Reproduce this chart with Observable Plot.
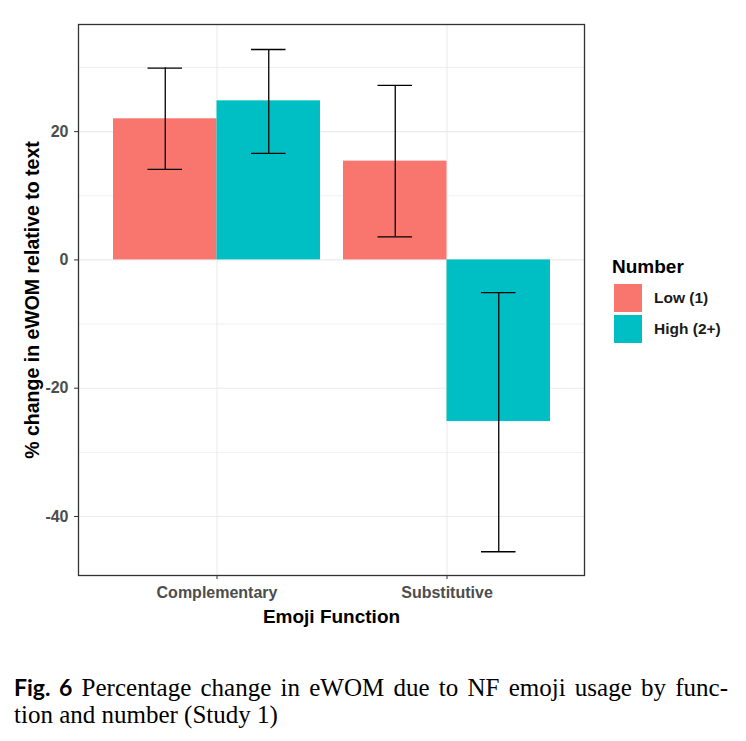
<!DOCTYPE html>
<html>
<head>
<meta charset="utf-8">
<script src="https://cdn.jsdelivr.net/npm/d3@7"></script>
<script src="https://cdn.jsdelivr.net/npm/@observablehq/plot@0.6"></script>
<style>
  html, body { margin: 0; padding: 0; background: #fff; }
  #wrap { position: relative; width: 746px; height: 741px; overflow: hidden; }
  #legend { position: absolute; left: 612px; top: 254px; font-family: "Liberation Sans", Arial, sans-serif; }
  #legend .title { font-size: 19px; font-weight: bold; color: #000; height: 28px; line-height: 26px; }
  #legend .row { display: flex; align-items: center; height: 30px; margin-top: 1px; }
  #legend .key { width: 28px; height: 28px; margin-left: 2px; margin-right: 12px; }
  #legend .lab { font-size: 15.5px; font-weight: bold; color: #1a1a1a; }
  #caption { position: absolute; left: 14px; top: 674px; width: 714px; font-family: "Liberation Serif", "Times New Roman", serif; font-size: 25px; line-height: 27px; color: #000; }
  #caption .l1 { text-align: justify; text-align-last: justify; white-space: nowrap; }
  #caption .fig { font-family: Lato, "Open Sans", sans-serif; font-weight: 700; font-size: 23px; }
</style>
</head>
<body>
<div id="wrap">
  <div id="chart"></div>
  <div id="legend"></div>
  <div id="caption"></div>
</div>
<script>
const functions = ["Complementary", "Substitutive"];
const numbers = ["Low (1)", "High (2+)"];
const lowMean = [22.0, 15.4];
const highMean = [24.8, -25.2];
const lowLower = [14.1, 3.6];
const lowUpper = [29.9, 27.2];
const highLower = [16.6, -45.5];
const highUpper = [32.8, -5.1];
const colors = ["#F8766D", "#00BFC4"];
const yTicks = [-40, -20, 0, 20];
const yMinor = [-30, -10, 10, 30];
const xTitle = "Emoji Function";
const yTitle = "% change in eWOM relative to text";
const legendTitle = "Number";
const captionFig = "Fig. 6";
const captionLine1 = "Percentage change in eWOM due to NF emoji usage by func-";
const captionLine2 = "tion and number (Study 1)";

const lowData = functions.map((f, i) => ({fn: f, number: numbers[0], mean: lowMean[i], lo: lowLower[i], hi: lowUpper[i]}));
const highData = functions.map((f, i) => ({fn: f, number: numbers[1], mean: highMean[i], lo: highLower[i], hi: highUpper[i]}));

const W = 746, H = 640;
const mL = 78, mR = 162, mT = 24, mB = 65;
const step = (W - mL - mR) / (functions.length - 0.1 + 2 * 0.15);
const band = step * 0.9;
const half = band / 2;
const capHalf = step * 0.075;

const tickFont = {fontSize: 16, fontWeight: "bold", fill: "#4D4D4D"};

const plot = Plot.plot({
  width: W, height: H,
  marginLeft: mL, marginRight: mR, marginTop: mT, marginBottom: mB,
  style: {fontFamily: "Liberation Sans, Arial, sans-serif", background: "#fff", overflow: "visible"},
  x: {type: "band", domain: functions, paddingInner: 0.1, paddingOuter: 0.15, align: 0.5, axis: null},
  y: {domain: [-49.2, 36.7], axis: null},
  color: {domain: numbers, range: colors},
  marks: [
    Plot.gridY(yMinor, {stroke: "#EBEBEB", strokeOpacity: 1, strokeWidth: 0.8}),
    Plot.gridY(yTicks, {stroke: "#EBEBEB", strokeOpacity: 1, strokeWidth: 1.1}),
    Plot.gridX(functions, {stroke: "#EBEBEB", strokeOpacity: 1, strokeWidth: 1.1}),
    Plot.barY(lowData, {x: "fn", y: "mean", fill: "number", insetLeft: 0, insetRight: half}),
    Plot.barY(highData, {x: "fn", y: "mean", fill: "number", insetLeft: half, insetRight: 0}),
    Plot.ruleX(lowData, {x: "fn", y1: "lo", y2: "hi", dx: -half / 2, stroke: "#000", strokeWidth: 1.3}),
    Plot.ruleX(highData, {x: "fn", y1: "lo", y2: "hi", dx: half / 2, stroke: "#000", strokeWidth: 1.3}),
    Plot.tickY(lowData, {x: "fn", y: "hi", insetLeft: half / 2 - capHalf, insetRight: half + half / 2 - capHalf, stroke: "#000", strokeWidth: 1.3}),
    Plot.tickY(lowData, {x: "fn", y: "lo", insetLeft: half / 2 - capHalf, insetRight: half + half / 2 - capHalf, stroke: "#000", strokeWidth: 1.3}),
    Plot.tickY(highData, {x: "fn", y: "hi", insetLeft: half + half / 2 - capHalf, insetRight: half / 2 - capHalf, stroke: "#000", strokeWidth: 1.3}),
    Plot.tickY(highData, {x: "fn", y: "lo", insetLeft: half + half / 2 - capHalf, insetRight: half / 2 - capHalf, stroke: "#000", strokeWidth: 1.3}),
    Plot.frame({stroke: "#333", strokeWidth: 1.3}),
    Plot.axisY(yTicks, {tickSize: 4, tickPadding: 6, stroke: "#333", label: null, tickFormat: (d) => String(d), ...tickFont}),
    Plot.axisX(functions, {tickSize: 4, tickPadding: 7, stroke: "#333", label: null, ...tickFont}),
    Plot.text([xTitle], {frameAnchor: "bottom", dy: 41, lineAnchor: "middle", fontSize: 19, fontWeight: "bold", fill: "#000"}),
    Plot.text([yTitle], {frameAnchor: "left", dx: -46, rotate: -90, textAnchor: "middle", lineAnchor: "middle", fontSize: 19.5, fontWeight: "bold", fill: "#000"})
  ]
});
document.getElementById("chart").appendChild(plot);

const color = plot.scale("color");
const legend = document.getElementById("legend");
const t = document.createElement("div");
t.className = "title"; t.textContent = legendTitle;
legend.appendChild(t);
numbers.forEach((n, i) => {
  const row = document.createElement("div"); row.className = "row";
  const k = document.createElement("div"); k.className = "key"; k.style.background = color.apply(n);
  const l = document.createElement("div"); l.className = "lab"; l.textContent = n;
  row.appendChild(k); row.appendChild(l); legend.appendChild(row);
});

const cap = document.getElementById("caption");
const l1 = document.createElement("div"); l1.className = "l1";
const fig = document.createElement("span"); fig.className = "fig"; fig.textContent = captionFig;
l1.appendChild(fig);
l1.appendChild(document.createTextNode(" " + captionLine1));
const l2 = document.createElement("div"); l2.textContent = captionLine2;
cap.appendChild(l1); cap.appendChild(l2);
</script>
</body>
</html>
